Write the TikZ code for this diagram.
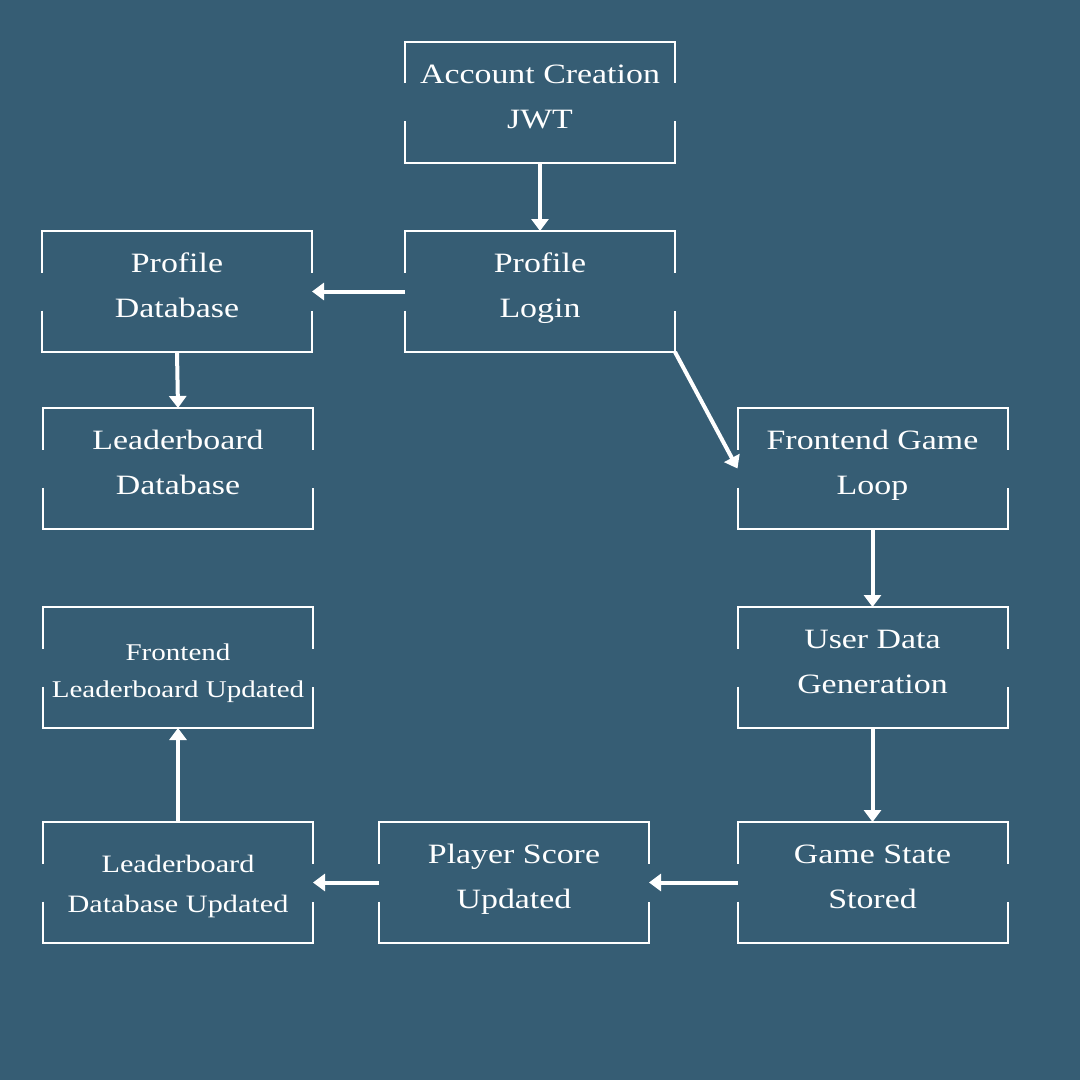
\documentclass[tikz,border=0pt]{standalone}
\usepackage{fontspec}
\setmainfont[FakeStretch=1.21]{Liberation Serif}
\usetikzlibrary{arrows.meta}
\definecolor{slate}{HTML}{365D74}
% line struts for the three text sizes
\newcommand\lna{\rule[-15pt]{0pt}{37pt}}
\newcommand\lnb{\rule[-6pt]{0pt}{31pt}}
\newcommand\lnc{\rule[-6pt]{0pt}{34pt}}
\begin{document}
\begin{tikzpicture}[x=1pt,y=-1pt,
  card/.style={minimum width=270pt,minimum height=121pt,outer sep=0pt,inner sep=0pt,align=center,text=white,font=\fontsize{28}{45}\selectfont},
  cardsmall/.style={card,font=\fontsize{24}{37}\selectfont},
  cardmid/.style={card,font=\fontsize{25}{40}\selectfont},
  rim/.style={white,line width=2pt},
  flow/.style={white,line width=4pt,-{Triangle[length=12pt,width=17pt]}}]
\fill[slate] (0,0) rectangle (1080,1080);
% boxes
\node[card] (acc) at (540,102) {\lna Account Creation\\\lna JWT};
\node[card] (plogin) at (540,291.5) {\lna Profile\\\lna Login};
\node[card] (pdb) at (177,291.5) {\lna Profile\\\lna Database};
\node[card] (lbdb) at (178,468.5) {\lna Leaderboard\\\lna Database};
\node[card] (fgl) at (872.5,468.5) {\lna Frontend Game\\\lna Loop};
\node[card] (udg) at (872.5,667.5) {\lna User Data\\\lna Generation};
\node[card] (gss) at (872.5,882.5) {\lna Game State\\\lna Stored};
\node[card] (psu) at (514,882.5) {\lna Player Score\\\lna Updated};
\node[cardmid] (ldbu) at (178,882.5) {\lnb Leaderboard\\\lnb Database Updated};
\node[cardsmall] (flu) at (178,667.5) {\lnc Frontend\\\lnc Leaderboard Updated};
% broken outlines
\foreach \n in {acc,plogin,pdb,lbdb,fgl,udg,gss,psu,ldbu,flu}{
  \draw[rim] ([yshift=19pt]\n.west) -- (\n.north west) -- (\n.north east) -- ([yshift=19pt]\n.east);
  \draw[rim] ([yshift=-19pt]\n.west) -- (\n.south west) -- (\n.south east) -- ([yshift=-19pt]\n.east);
}
% arrows
\draw[flow] (acc) -- (plogin);
\draw[flow] (plogin) -- (pdb);
\draw[flow] (pdb.south) -- (lbdb.north);
\draw[flow] (plogin.south east) -- (fgl.west);
\draw[flow] (fgl) -- (udg);
\draw[flow] (udg) -- (gss);
\draw[flow] (gss) -- (psu);
\draw[flow] (psu) -- (ldbu);
\draw[flow] (ldbu) -- (flu);
\end{tikzpicture}
\end{document}
